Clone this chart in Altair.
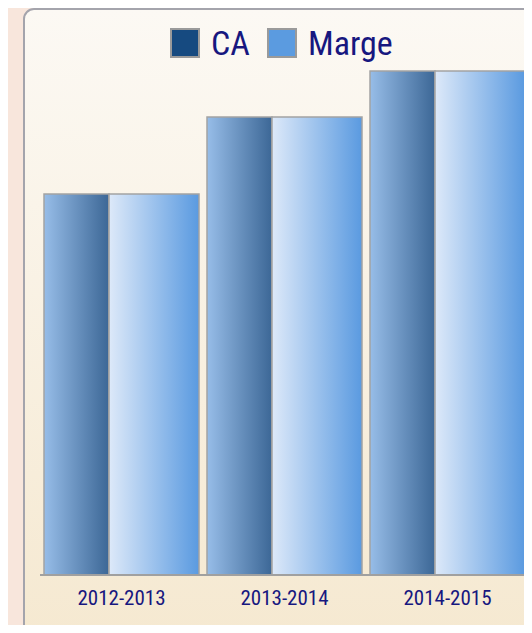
import altair as alt
import pandas as pd

periods = ["2012-2013", "2013-2014", "2014-2015"]
ca_values = [381, 458, 504]
marge_values = [381, 458, 504]
series = ["CA", "Marge"]
legend_colors = ["#164a80", "#5b9be0"]

FONT = "Roboto Condensed, Liberation Sans Narrow, Arial Narrow, sans-serif"
TXT = "#17177f"

df = pd.DataFrame({"period": periods, "CA": ca_values, "Marge": marge_values})

def grad(c0, c1, vertical=False):
    return alt.Gradient(
        gradient="linear",
        x1=0, x2=0 if vertical else 1, y1=0, y2=1 if vertical else 0,
        stops=[alt.GradientStop(color=c0, offset=0), alt.GradientStop(color=c1, offset=1)],
    )

xenc = alt.X("period:N", sort=periods,
             scale=alt.Scale(domain=periods, range=[32, 521], paddingInner=0, paddingOuter=0),
             axis=None)
yscale = alt.Scale(domain=[0, 504], range=[567, 63])

one = alt.Data(values=[{}])

panel = alt.Chart(one).mark_rect(
    cornerRadius=10, fill=grad("#fcf9f4", "#f5e8cf", vertical=True),
    stroke="#a4a4ac", strokeWidth=2,
).encode(x=alt.value(16), x2=alt.value(560), y=alt.value(1), y2=alt.value(660))

bars_ca = alt.Chart(df).mark_bar(
    width=65, xOffset=-45, color=grad("#97bde8", "#3c6796"),
    stroke="#a3a3a3", strokeWidth=1.5,
).encode(x=xenc, y=alt.Y("CA:Q", scale=yscale, axis=None))

bars_marge = alt.Chart(df).mark_bar(
    width=90, xOffset=32.5, color=grad("#dde9f9", "#5a9ae0"),
    stroke="#a3a3a3", strokeWidth=1.5,
).encode(x=xenc, y=alt.Y("Marge:Q", scale=yscale, axis=None))

baseline = alt.Chart(one).mark_rule(color="#a0a0a0", strokeWidth=2).encode(
    x=alt.value(32), x2=alt.value(530), y=alt.value(567))

labels = alt.Chart(df).mark_text(
    font=FONT, fontSize=21, color=TXT, baseline="alphabetic",
).encode(x=xenc, y=alt.value(597), text="period:N")

legend_layers = []
sw_x = [163, 260]
tx_x = [203, 300]
for name, col, sx, tx in zip(series, legend_colors, sw_x, tx_x):
    legend_layers.append(
        alt.Chart(alt.Data(values=[{"s": name}])).mark_rect(
            color=col, stroke="#9a9a9a", strokeWidth=2,
        ).encode(x=alt.value(sx), x2=alt.value(sx + 28), y=alt.value(21), y2=alt.value(49))
    )
    legend_layers.append(
        alt.Chart(alt.Data(values=[{"s": name}])).mark_text(
            font=FONT, fontSize=34, color=TXT, align="left", baseline="alphabetic",
        ).encode(x=alt.value(tx), y=alt.value(47), text="s:N")
    )

chart = alt.layer(panel, bars_ca, bars_marge, baseline, labels, *legend_layers).properties(
    width=516, height=617, background="#f8e6dc", padding=0,
    autosize=alt.AutoSizeParams(type="none"),
).configure_view(strokeWidth=0)

chart.save("out.html", embed_options={"renderer": "svg", "actions": False})
